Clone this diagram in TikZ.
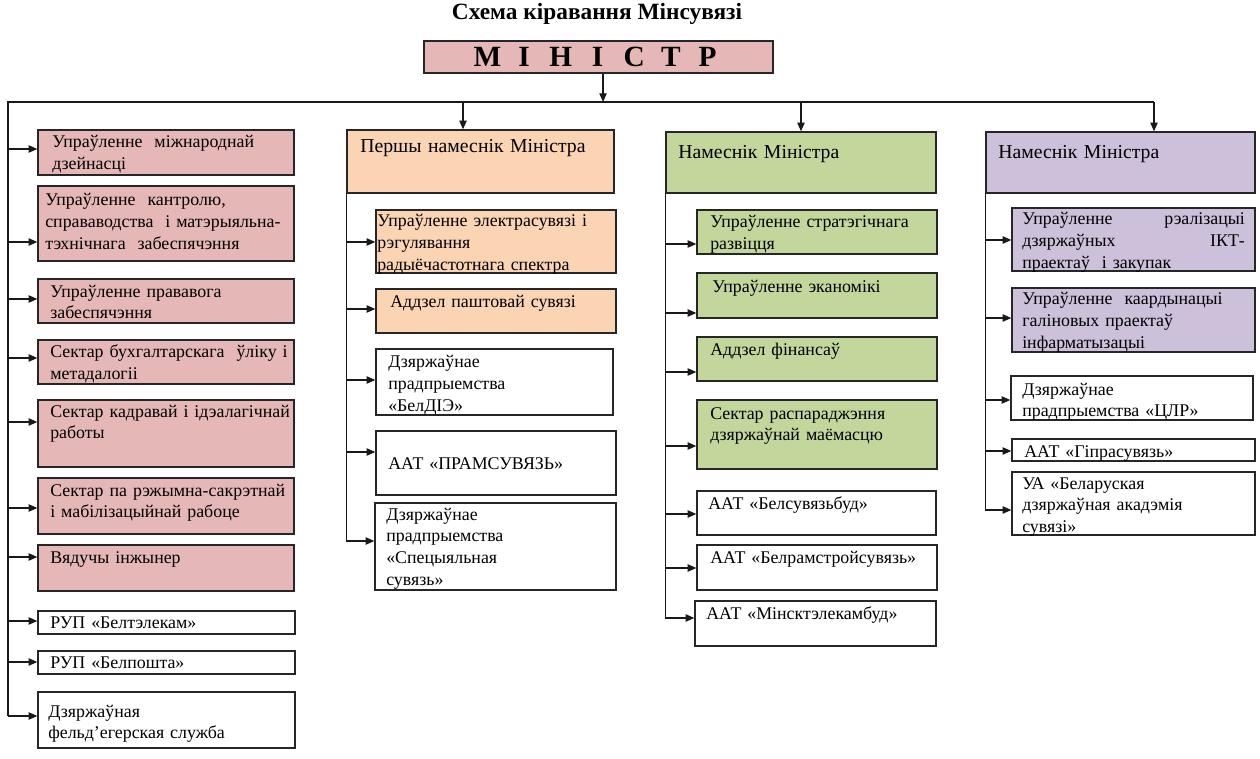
\documentclass[tikz,border=0pt]{standalone}
\usepackage{fontspec}
\setmainfont{Liberation Serif}
\usetikzlibrary{arrows.meta,fit}
\definecolor{cpink}{HTML}{E5B8B7}
\definecolor{cpeach}{HTML}{FBD4B4}
\definecolor{cgreen}{HTML}{C3D69B}
\definecolor{clav}{HTML}{CCC0DA}
\newcommand\Bx[9]{%
  \node[box, fill=#6, fit={(#2,#3) (#4,#5)}] (#1) {};
  \node[txt] (#1t) at (#7,#8) {#9};}
\newcommand\Hx[9]{%
  \node[box, fill=#6, fit={(#2,#3) (#4,#5)}] (#1) {};
  \node[htxt] (#1t) at (#7,#8) {#9};}
\begin{document}
\begin{tikzpicture}[x=0.75pt,y=-0.75pt,
  ln/.style={draw=black!90,line width=0.9pt},
  arr/.style={ln,-{Triangle[length=6.5pt,width=5.5pt]}},
  box/.style={draw=black!85,line width=1pt,inner sep=0pt},
  txt/.style={anchor=base west,inner sep=0pt,align=left,text width=300pt,font=\fontsize{13.4}{16.3}\selectfont},
  htxt/.style={txt,font=\fontsize{14.8}{16.3}\selectfont}]
\fill[white] (0,0) rectangle (1260,759);
\useasboundingbox (0,0) rectangle (1260,759);

\node[font=\bfseries\fontsize{17.5}{20}\selectfont] (title) at (597,14) {Схема кіравання Мінсувязі};
\node[box,fill=cpink,fit={(424,41) (773,73)}] (min) {};
\node[font=\bfseries\fontsize{22}{24}\selectfont,inner sep=0pt] (mint) at (597.5,57)
  {\makebox[27.5pt]{М}\makebox[27.5pt]{І}\makebox[27.5pt]{Н}\makebox[27.5pt]{І}\makebox[27.5pt]{С}\makebox[27.5pt]{Т}\makebox[27.5pt]{Р}};

% left column
\Bx{L1}{38}{130}{294}{175}{cpink}{52}{148}{Упраўленне \ міжнароднай\\дзейнасці}
\Bx{L2}{38}{186}{294}{261}{cpink}{45}{206}{Упраўленне \ кантролю,\\справаводства \ і матэрыяльна-\\тэхнічнага \ забеспячэння}
\Bx{L3}{38}{279}{294}{323}{cpink}{50}{297}{Упраўленне прававога\\забеспячэння}
\Bx{L4}{38}{340}{294}{384}{cpink}{50}{358}{Сектар бухгалтарскага \ ўліку і\\метадалогіі}
\Bx{L5}{38}{400}{294}{467}{cpink}{50}{417}{Сектар кадравай і ідэалагічнай\\работы}
\Bx{L6}{38}{478}{294}{534}{cpink}{50}{496}{Сектар па рэжымна-сакрэтнай\\і мабілізацыйнай рабоце}
\Bx{L7}{38}{545}{294}{591}{cpink}{50}{563}{Вядучы інжынер}
\Bx{L8}{38}{611}{295}{634}{white}{50}{628}{РУП «Белтэлекам»}
\Bx{L9}{38}{651}{295}{674}{white}{50}{668}{РУП «Белпошта»}
\Bx{L10}{38}{692}{295}{748}{white}{48}{717}{Дзяржаўная\\фельд’егерская служба}

% column 2
\Hx{h1}{347}{130}{614}{193}{cpeach}{360}{153}{Першы намеснік Міністра}
\Bx{A1}{376}{210}{616}{273}{cpeach}{377}{227}{Упраўленне электрасувязі і\\рэгулявання\\радыёчастотнага спектра}
\Bx{A2}{376}{289}{616}{333}{cpeach}{390}{307}{Аддзел паштовай сувязі}
\Bx{A3}{376}{349}{613}{415}{white}{388}{368}{Дзяржаўнае\\прадпрыемства\\«БелДІЭ»}
\Bx{A4}{376}{431}{616}{495}{white}{388}{469}{ААТ «ПРАМСУВЯЗЬ»}
\Bx{A5}{375}{503}{616}{590}{white}{386}{520}{Дзяржаўнае\\прадпрыемства\\«Спецыяльная\\сувязь»}

% column 3
\Hx{h2}{666}{132}{936}{193}{cgreen}{678}{159}{Намеснік Міністра}
\Bx{B1}{697}{210}{937}{254}{cgreen}{710}{228}{Упраўленне стратэгічнага\\развіцця}
\Bx{B2}{697}{273}{937}{318}{cgreen}{712}{292}{Упраўленне эканомікі}
\Bx{B3}{697}{337}{937}{381}{cgreen}{710}{355}{Аддзел фінансаў}
\Bx{B4}{697}{400}{937}{469}{cgreen}{710}{419}{Сектар распараджэння\\дзяржаўнай маёмасцю}
\Bx{B5}{697}{491}{936}{535}{white}{708}{509}{ААТ «Белсувязьбуд»}
\Bx{B6}{697}{545}{937}{590}{white}{710}{563}{ААТ «Белрамстройсувязь»}
\Bx{B7}{695}{601}{936}{646}{white}{706}{619}{ААТ «Мінсктэлекамбуд»}

% column 4
\Hx{h3}{986}{132}{1255}{193}{clav}{998}{159}{Намеснік Міністра}
\Bx{C1}{1012}{208}{1255}{271}{clav}{1022}{225}{\makebox[167pt][l]{Упраўленне\hfill рэалізацыі}\\\makebox[167pt][l]{дзяржаўных\hfill ІКТ-}\\праектаў \ і закупак}
\Bx{C2}{1012}{288}{1255}{352}{clav}{1022}{305}{Упраўленне \ каардынацыі\\галіновых праектаў\\інфарматызацыі}
\Bx{C3}{1011}{376}{1253}{420}{white}{1022}{395}{Дзяржаўнае\\прадпрыемства «ЦЛР»}
\Bx{C4}{1012}{439}{1255}{461}{white}{1024}{457}{ААТ «Гіпрасувязь»}
\Bx{C5}{1012}{472}{1255}{535}{white}{1022}{489}{УА «Беларуская\\дзяржаўная акадэмія\\сувязі»}

% bus
\coordinate (busL) at (8,102);
\coordinate (busR) at (1154,102);
\coordinate (d1) at (463,102);
\coordinate (mdrop) at ([xshift=3.4pt]min.south);
\draw[arr] (mdrop) -- (mdrop |- busL);
\draw[ln] (busL |- 0,716) -- (busL) -- (busR);
\draw[arr] (busR) -- (busR |- h3.north);
\draw[arr] (d1) -- (d1 |- h1.north);
\draw[arr] (h2.north |- busL) -- (h2.north);

% left branches
\foreach \n/\y in {L1/149,L2/242,L3/299,L4/358,L5/422,L6/508,L7/557,L8/621,L9/662,L10/716}
  \draw[arr] (busL |- 0,\y) -- (\n.west |- 0,\y);

% column 2 branches
\draw[ln] (h1.south west) -- (h1.south west |- 0,541);
\foreach \n/\y in {A1/242,A2/309,A3/380,A4/452,A5/541}
  \draw[arr] (h1.south west |- 0,\y) -- (\n.west |- 0,\y);

% column 3 branches
\draw[ln] (h2.south west) -- (h2.south west |- 0,618);
\foreach \n/\y in {B1/244,B2/313,B3/372,B4/446,B5/514,B6/568,B7/618}
  \draw[arr] (h2.south west |- 0,\y) -- (\n.west |- 0,\y);

% column 4 branches
\draw[ln] (h3.south west) -- (h3.south west |- 0,510);
\foreach \n/\y in {C1/240,C2/318,C3/400,C4/451,C5/510}
  \draw[arr] (h3.south west |- 0,\y) -- (\n.west |- 0,\y);
\end{tikzpicture}
\end{document}
